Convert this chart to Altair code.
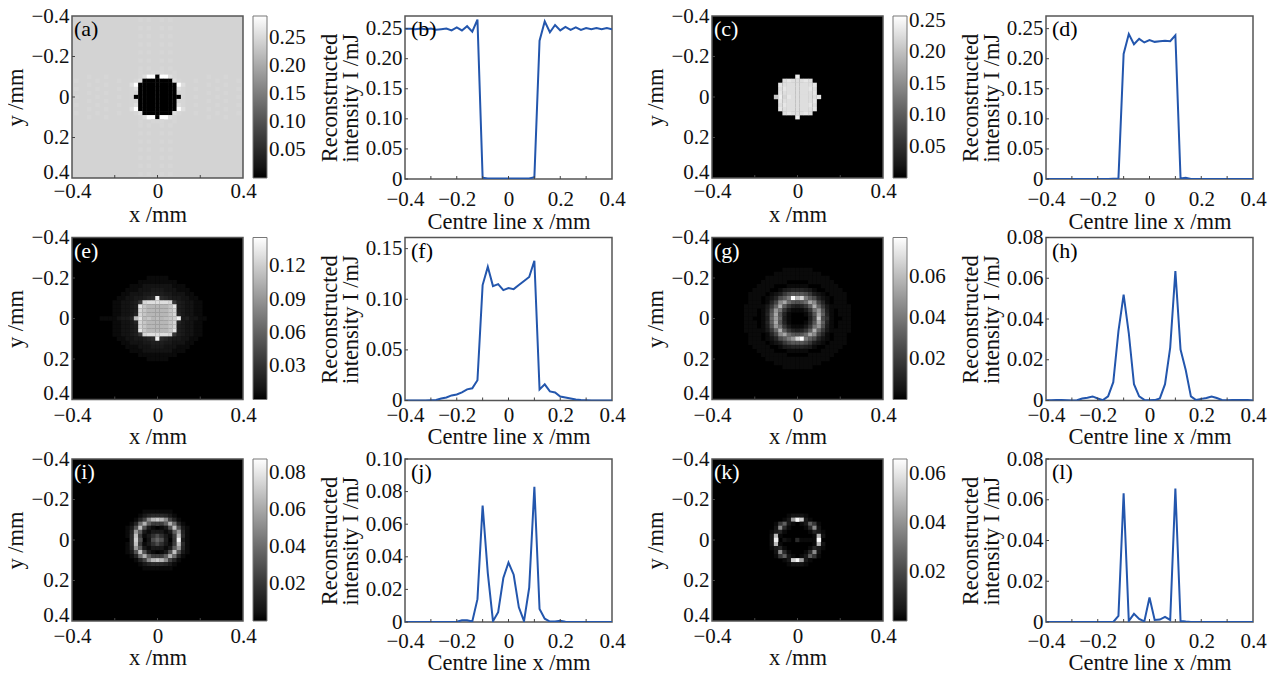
import altair as alt
import pandas as pd

FONT = "Liberation Serif"
BLUE = "#2356ad"
FRAME = "#555555"
TICK = "#444444"

X_GRID = [round(-0.4 + 0.02 * i, 2) for i in range(41)]

LINE_B = [.250,.250,.249,.250,.249,.250,.248,.249,.250,.247,.252,.247,.254,.245,.265,.002,.001,.001,.001,.001,.001,.001,.001,.001,.001,.003,.230,.262,.244,.256,.247,.253,.248,.252,.248,.251,.249,.251,.249,.251,.249]
LINE_D = [0,0,0,0,0,0,0,0,0,0,0,0,0,.0005,.001,.208,.241,.224,.233,.227,.231,.228,.229,.230,.229,.239,.001,.002,0,0,0,0,0,0,0,0,0,0,0,0,0]
LINE_F = [0,0,0,0,0,.0002,.0005,.002,.003,.005,.006,.008,.011,.012,.020,.114,.132,.113,.115,.109,.111,.110,.114,.118,.122,.138,.011,.016,.009,.008,.004,.003,.002,.001,.0005,.0002,0,0,0,0,0]
LINE_H = [.0001,.0001,.0002,.0002,.0001,0,.0001,.001,.0014,.002,.001,.0002,.002,.009,.034,.052,.033,.008,.002,.0003,.0001,.0002,.001,.008,.026,.0635,.025,.015,.002,.0002,.0008,.0012,.002,.0012,.0003,.0001,.0002,.0003,.0002,.0002,0]
LINE_J = [0,0,0,0,0,0,0,0,0,0,.0002,.001,.001,.0003,.014,.0715,.030,.0005,.006,.027,.0365,.029,.009,.0005,.021,.083,.008,.002,.0003,.0003,.0008,.0002,0,0,0,0,0,0,0,0,0]
LINE_L = [0,0,0,0,0,0,0,0,0,0,0,0,0,0,.003,.0632,.0005,.004,.0015,.0003,.012,.001,.0012,.0025,.001,.0655,.0005,.0002,0,0,0,0,0,0,0,0,0,0,0,0,0]

# Image rows, top to bottom, one base-36 character per cell (level / 35 of the colour bar top).
# Rows shorter than 41 cells are centred on the background level.
V1, V2 = "ttututtututtt", "ttttttttttttt"
H1, H2 = "ttttutttutttt", "tuttttuttttut"
MAP_A = [V2,V1,V2,V1,V2,V1,V2,V1,V2,V1,V2,V1,V2,V1,
 "tttuttuuuttuttt",
 H1+"tttuvzz0zzvuttt"+H1,
 H2+"ttuv0000000vutt"+H2,
 H1+"tvz000000000zvt"+H1,
 H2+"tuv000000000vut"+H2,
 H1+"tuu000000000uut"+H1,
 H2+"tu00000000000ut"+H2,
 H1+"tuu000000000uut"+H1,
 H2+"tuv000000000vut"+H2,
 H1+"tvz000000000zvt"+H1,
 H2+"ttuv0000000vutt"+H2,
 H1+"tttuvzz0zzvuttt"+H1,
 "tttuttuuuttuttt",
 V1,V2,V1,V2,V1,V2,V1,V2,V1,V2,V1,V2,V1,V2]
MAP_C = ["00000x00000","00vwvvvwv00","0wvvvvvvvw0","0vwvvvvvwv0","0wvvvvvvvw0","sxuwvvvvvvw",
         "0wvvvvvvvw0","0vwvvvvvwv0","0wvvvvvvvw0","00vwvvvwv00","00000x00000"]
MAP_E = ["11111","111111111","1112222222111","111222333222111","11222334443322211",
 "112233456"+"x"+"654332211",
 "112234"+"8uvvvvvu8"+"432211",
 "112234"+"wsqqqqqsw"+"432211",
 "112234"+"usqqqqqsu"+"432211",
 "112235"+"usqqqqqsu"+"532211",
 "11112335"+"rwrsqrqrstx"+"34221100",
 "112235"+"usqqqqqsu"+"532211",
 "112234"+"usqqqqqsu"+"432211",
 "112234"+"wsqqqqqsw"+"432211",
 "112234"+"8uvvvvvu8"+"432211",
 "112233456"+"x"+"654332211",
 "11222334443322211","111222333222111","1112222222111","111111111","11111"]
MAP_G = ["1111111","11111111111","111111111111111","11111100000111111",
 "1111000111110001111","111100134555431001111",
 "111101248bd"+"d"+"db842101111",
 "1110125beiz"+"q"+"uieb5210111",
 "111015akogd"+"c"+"dgoka510111",
 "1111138fpe85"+"4"+"58epf8311111",
 "111014cmh831"+"1"+"138hmc410111",
 "111015eod510"+"0"+"015doe510111",
 "1100"+"14fnf41"+"0000"+"4bsb71"+"0011",
 "111015eod510"+"0"+"015doe510111",
 "111014cmh831"+"1"+"138hmc410111",
 "1111138fpe85"+"4"+"58epf8311111",
 "111015akogd"+"c"+"dgoka510111",
 "1110125beim"+"u"+"zieb5210111",
 "111101248bd"+"d"+"db842101111",
 "111100134555431001111","1111000111110001111","11111100000111111",
 "111111111111111","11111111111","1111111"]
MAP_I = ["1111111","135666531","15akqsqka51","15gpe999epg51","13crc31013crc31","15me3133313em51",
 "16r9137b7319r61","06tc02bfc408x31","16r9137b7319r61","15me3133313em51","13crc31013crc31",
 "15gpe999epg51","15akqsqka51","135666531","1111111"]
MAP_K = ["0000122210000","00013nyt31000","018e31013e810","02k6100016k20","1351000001531",
 "2q100000001q2","2x021061111z0","2q100000001q2","1351000001531","02k6100016k20",
 "018e31013e810","00013tyn31000","0000122210000"]

PANELS_HEAT = {
 "a": dict(rows=MAP_A, bg="t", fill="#d3d3d3", top=0.29,  values=[.05,.10,.15,.20,.25], color="black", pad=2),
 "c": dict(rows=MAP_C, bg="0", fill="#000000", top=0.258, values=[.05,.10,.15,.20,.25], color="white", pad=2),
 "e": dict(rows=MAP_E, bg="0", fill="#000000", top=0.146, values=[.03,.06,.09,.12], color="white", pad=5),
 "g": dict(rows=MAP_G, bg="0", fill="#000000", top=0.0796, values=[.02,.04,.06], color="white", pad=5),
 "i": dict(rows=MAP_I, bg="0", fill="#000000", top=0.0876, values=[.02,.04,.06,.08], color="white", pad=4),
 "k": dict(rows=MAP_K, bg="0", fill="#000000", top=0.0663, values=[.02,.04,.06], color="white", pad=4),
}
PANELS_LINE = {
 "b": dict(y=LINE_B, top=0.271, ticks=[0,.05,.10,.15,.20,.25], pad=9, tp=1),
 "d": dict(y=LINE_D, top=0.271, ticks=[0,.05,.10,.15,.20,.25], pad=9, tp=1),
 "f": dict(y=LINE_F, top=0.161, ticks=[0,.05,.10,.15], pad=4, tp=0),
 "h": dict(y=LINE_H, top=0.08,  ticks=[0,.02,.04,.06,.08], pad=4, tp=0),
 "j": dict(y=LINE_J, top=0.10,  ticks=[0,.02,.04,.06,.08,.10], pad=8, tp=0),
 "l": dict(y=LINE_L, top=0.08,  ticks=[0,.02,.04,.06,.08], pad=8, tp=0),
}
HEAT_W, HEAT_H, LINE_W, LINE_H_PX = 171, 162, 207, 163
FS = 21
TS = 22.5
COORD = "datum.value == 0 ? '0' : replace(format(datum.value, '.1f'), '-', '\u2212')"
VAL = "datum.value == 0 ? '0' : format(datum.value, '.2f')"
LAST_UP = {"condition": {"test": "datum.value == 0.4", "value": "alphabetic"}, "value": "middle"}

def ax(**kw):
    base = dict(grid=False, domain=False, ticks=False, labelFont=FONT, labelFontSize=FS, labelColor="#111",
                titleFont=FONT, titleFontSize=TS, titleFontWeight="normal", titleColor="#111",
                labelOverlap=False, labelFlush=False, labelPadding=3)
    base.update(kw)
    return alt.Axis(**base)

def label(text, color, dx):
    return alt.Chart(pd.DataFrame({"t": [f"({text})"]})).mark_text(
        font=FONT, fontSize=22, align="left", baseline="alphabetic", color=color
    ).encode(x=alt.value(dx), y=alt.value(20), text="t:N")

def ticks_x(vals, xenc, h):
    return alt.Chart(pd.DataFrame({"v": vals})).mark_rule(color=TICK, strokeWidth=1).encode(
        x=xenc("v:Q"), y=alt.value(h), y2=alt.value(h - 3))

def ticks_y(vals, yenc):
    return alt.Chart(pd.DataFrame({"v": vals})).mark_rule(color=TICK, strokeWidth=1).encode(
        y=yenc("v:Q"), x=alt.value(0), x2=alt.value(3))

def heat(key):
    p = PANELS_HEAT[key]
    rows = [r.center(41, p["bg"]) for r in p["rows"]]
    start = (41 - len(rows)) // 2
    rows = [p["bg"] * 41] * start + rows + [p["bg"] * 41] * (41 - len(rows) - start)
    half = .0106
    recs = []
    for j, r in enumerate(rows):
        for i, ch in enumerate(r):
            if ch != p["bg"]:
                recs.append(dict(x0=X_GRID[i] - half, x1=X_GRID[i] + half, y0=X_GRID[j] - half, y1=X_GRID[j] + half,
                                 v=int(ch, 36) / 35 * p["top"]))
    sx = alt.Scale(domain=[-.4, .4], nice=False)
    sy = alt.Scale(domain=[-.4, .4], nice=False, reverse=True)
    cs = alt.Scale(domain=[0, p["top"]], range=["#000000", "#ffffff"])
    xenc = lambda f: alt.X(f, scale=sx, title="x /mm",
                           axis=ax(values=[-.4, 0, .4], labelExpr=COORD, labelPadding=p["pad"], titlePadding=4 - p["pad"] if p["pad"] < 4 else 0))
    yenc = lambda f: alt.Y(f, scale=sy, title="y /mm",
                           axis=ax(values=[-.4, -.2, 0, .2, .4], labelExpr=COORD, titlePadding=3, labelBaseline=LAST_UP))
    rect = alt.Chart(pd.DataFrame(recs)).mark_rect(clip=True).encode(
        x=xenc("x0:Q"), x2="x1:Q", y=yenc("y0:Q"), y2="y1:Q",
        color=alt.Color("v:Q", scale=cs, legend=alt.Legend(
            type="gradient", title=None, values=p["values"], gradientLength=HEAT_H, gradientThickness=14,
            offset=10, padding=0, labelFont=FONT, labelFontSize=FS, labelColor="#111", labelOffset=2,
            labelOverlap=False, format=".2f", gradientStrokeColor="#777", gradientStrokeWidth=1)),
    )
    return alt.layer(rect, ticks_x([-.2, 0, .2], xenc, HEAT_H), ticks_y([-.2, 0, .2], yenc),
                     label(key, p["color"], 2)).properties(
        width=HEAT_W, height=HEAT_H, view=alt.ViewConfig(fill=p["fill"], stroke=FRAME, strokeWidth=1.5))

def line(key):
    p = PANELS_LINE[key]
    sx = alt.Scale(domain=[-.4, .4], nice=False)
    sy = alt.Scale(domain=[0, p["top"]], nice=False)
    xenc = lambda f: alt.X(f, scale=sx, title="Centre line x /mm",
                           axis=ax(values=[-.4, -.2, 0, .2, .4], labelExpr=COORD, labelPadding=p["pad"], titlePadding=p["tp"]))
    yenc = lambda f: alt.Y(f, scale=sy, title=["Reconstructed", "intensity I /mJ"],
                           axis=ax(values=p["ticks"], labelExpr=VAL, titlePadding=3, titleLineHeight=21))
    df = pd.DataFrame({"x": X_GRID, "y": p["y"]})
    ln = alt.Chart(df).mark_line(color=BLUE, strokeWidth=2, clip=True).encode(x=xenc("x:Q"), y=yenc("y:Q"))
    return alt.layer(ln, ticks_x([-.3, -.2, -.1, 0, .1, .2, .3], xenc, LINE_H_PX), ticks_y(p["ticks"], yenc),
                     label(key, "black", 6)).properties(
        width=LINE_W, height=LINE_H_PX, view=alt.ViewConfig(stroke=FRAME, strokeWidth=1.5))

def gap(w):
    return alt.Chart(pd.DataFrame({"s": [0]})).mark_point(opacity=0).encode(x=alt.value(0)).properties(
        width=w, height=LINE_H_PX, view=alt.ViewConfig(strokeOpacity=0))

cells = []
for a, b, c, d in [("a","b","c","d"), ("e","f","g","h"), ("i","j","k","l")]:
    cells += [heat(a), gap(162), line(b), gap(100), heat(c), gap(163), line(d)]

chart = alt.concat(*cells, columns=7, spacing=alt.RowColnumber(column=0, row=58.5),
                   bounds="flush", align="each").properties(
    background="white", autosize=alt.AutoSizeParams(type="none"),
    padding=alt.Padding(left=64, top=8, right=1202, bottom=656)
).resolve_scale(color="independent", x="independent", y="independent"
).resolve_legend(color="independent")

chart.save("out.html", embed_options={"renderer": "svg", "actions": False})
